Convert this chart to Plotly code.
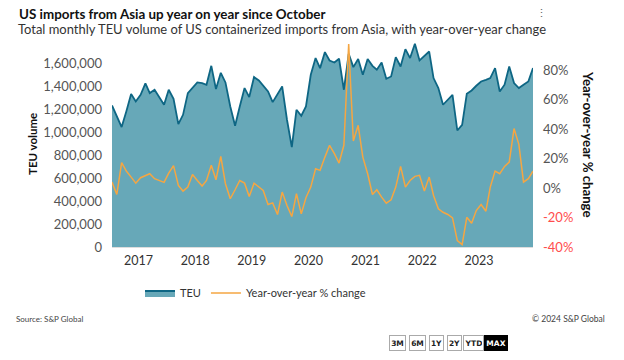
import pandas as pd
import plotly.graph_objects as go

# Monthly observations, Jul 2016 - Dec 2023 (plotted mid-month)
months = pd.date_range("2016-07-01", "2023-12-01", freq="MS") + pd.Timedelta(days=14)

teu = [1236700, 1135000, 1048000, 1184000, 1336000, 1272000, 1330000, 1429000,
       1345000, 1374000, 1315000, 1243000, 1374000, 1295000, 1074000, 1155000,
       1345000, 1389000, 1438000, 1432000, 1418000, 1583000, 1380000, 1522000,
       1438000, 1228000, 1059000, 1228000, 1389000, 1310000, 1485000, 1455000,
       1409000, 1359000, 1266000, 1330000, 1403000, 1112000, 873000, 1199000,
       1147000, 1228000, 1505000, 1651000, 1563000, 1703000, 1630000, 1612000,
       1645000, 1374000, 1688000, 1572000, 1642000, 1505000, 1642000, 1583000,
       1549000, 1612000, 1470000, 1490000, 1659000, 1577000, 1729000, 1651000,
       1776000, 1630000, 1665000, 1708000, 1476000, 1389000, 1243000, 1287000,
       1330000, 1018000, 1068000, 1339000, 1368000, 1409000, 1446000, 1461000,
       1476000, 1563000, 1359000, 1418000, 1577000, 1432000, 1389000, 1418000,
       1446000, 1563000]

yoy = [4.1, -4.3, 17.3, 11.6, 7.5, 3.4, 7.1, 8.4, 9.8, 6.4, 5.2, 3.9, 10.2, 15.3, 1.8, -2.0,
       0.7, 9.3, 5.2, 1.4, 5.2, 15.5, 5.7, 21.6, 3.0, -7.2, -1.1, 5.2, 3.4, -5.7, 3.4, 0.7,
       -1.6, -11.1, -10.0, -17.9, -2.7, -11.8, -19.3, -3.8, -17.5, -6.5, 0.7, 13.2, 12.1, 21.1, 29.1, 23.4,
       17.0, 29.1, 98.0, 32.0, 42.7, 21.1, 9.8, -4.3, -1.1, -6.1, -10.2, -7.9, 0.7, 14.8, 0.7, 5.2,
       8.0, 8.7, -2.0, 7.5, -5.0, -14.0, -16.4, -17.9, -20.2, -35.7, -38.4, -19.8, -23.9, -15.2, -11.1, -15.7,
       0.7, 11.6, 9.8, 14.8, 17.7, 40.5, 29.8, 4.1, 6.4, 11.6]

year_ticks = ["2017-01-01", "2018-01-01", "2019-01-01", "2020-01-01",
              "2021-01-01", "2022-01-01", "2023-01-01"]
year_labels = ["2017", "2018", "2019", "2020", "2021", "2022", "2023"]

left_ticks = [0, 200000, 400000, 600000, 800000, 1000000, 1200000, 1400000, 1600000]
right_ticks = [-40, -20, 0, 20, 40, 60, 80]
right_labels = [('<span style="color:#ff4d4d">%d%%</span>' % v) if v < 0 else "%d%%" % v
                for v in right_ticks]

FONT = "Lato"
TEAL_FILL = "rgb(103,168,184)"
TEAL_LINE = "rgb(14,102,132)"
ORANGE = "rgb(245,166,66)"

fig = go.Figure()
fig.add_trace(go.Scatter(
    x=months, y=teu, name="TEU", mode="lines",
    line=dict(color=TEAL_LINE, width=1.8),
    fill="tozeroy", fillcolor=TEAL_FILL, yaxis="y"))
fig.add_trace(go.Scatter(
    x=months, y=yoy, name="Year-over-year % change", mode="lines",
    line=dict(color=ORANGE, width=1.5), yaxis="y2"))

W, H = 624, 360
L, R, T, B = 112, 91, 41, 113
pw, ph = W - L - R, H - T - B


def px(x):
    return (x - L) / pw


def py(y):
    return (H - B - y) / ph


fig.update_layout(
    width=W, height=H,
    margin=dict(l=L, r=R, t=T, b=B),
    paper_bgcolor="white", plot_bgcolor="white",
    font=dict(family=FONT, color="#333"),
    showlegend=True,
    legend=dict(orientation="h", x=px(140), xanchor="left", y=py(293), yanchor="middle",
                font=dict(size=11, color="#333"), bgcolor="rgba(0,0,0,0)"),
    xaxis=dict(type="date", range=[months[0], months[-1]],
               tickvals=year_ticks, ticktext=year_labels,
               showgrid=False, zeroline=False, showline=True, linecolor="#dddddd",
               ticks="", tickfont=dict(size=12.5, color="#333", family=FONT),
               ticklabelstandoff=2),
    yaxis=dict(range=[0, 1800000], tickvals=left_ticks, tickformat=",",
               showgrid=False, zeroline=False, showline=False,
               tickfont=dict(size=13, color="#555", family=FONT),
               ticklabelstandoff=9),
    yaxis2=dict(range=[-40, 100], overlaying="y", side="right",
                tickvals=right_ticks, ticktext=right_labels,
                showgrid=False, zeroline=True, zerolinecolor="#7a7a7a", zerolinewidth=1,
                tickfont=dict(size=13, color="#555", family=FONT),
                ticklabelstandoff=9),
)

ann = []
ann.append(dict(text="<b>US imports from Asia up year on year since October</b>",
                x=px(17), y=py(14), xanchor="left", yanchor="middle",
                font=dict(size=13.4, color="#111", family=FONT)))
ann.append(dict(text="Total monthly TEU volume of US containerized imports from Asia, with year-over-year change",
                x=px(16), y=py(29.5), xanchor="left", yanchor="middle",
                font=dict(size=12.95, color="#333", family=FONT)))
ann.append(dict(text="⋮", x=px(541), y=py(12.5), xanchor="center", yanchor="middle",
                font=dict(size=11, color="#666", family=FONT)))
ann.append(dict(text="<b>TEU volume</b>", textangle=-90, x=px(32), y=0.5,
                xanchor="center", yanchor="middle",
                font=dict(size=11.5, color="#111", family=FONT)))
ann.append(dict(text="<b>Year-over-year % change</b>", textangle=90, x=px(588), y=0.5,
                xanchor="center", yanchor="middle",
                font=dict(size=13.2, color="#111", family=FONT)))
ann.append(dict(text="Source: S&P Global", x=px(14), y=py(319), xanchor="left", yanchor="middle",
                font=dict(size=8, color="#444", family=FONT)))
ann.append(dict(text="© 2024 S&P Global", x=px(607), y=py(319), xanchor="right", yanchor="middle",
                font=dict(size=8.5, color="#444", family=FONT)))

buttons = [("3M", 397.5, 13), ("6M", 417, 13), ("1Y", 436, 11), ("2Y", 454, 11),
           ("YTD", 473, 17), ("MAX", 495.5, 20)]
for label, cx, w in buttons:
    active = label == "MAX"
    ann.append(dict(text="<b>%s</b>" % label, x=px(cx), y=py(342.5),
                    xanchor="center", yanchor="middle", width=w, height=12,
                    bgcolor="black" if active else "white",
                    bordercolor="black" if active else "#aaaaaa", borderwidth=1, borderpad=1,
                    font=dict(size=7.5, color="white" if active else "#222", family="DejaVu Sans")))

for a in ann:
    a.update(xref="paper", yref="paper", showarrow=False)
fig.update_layout(annotations=ann)

fig.write_html("out.html", config={"displayModeBar": False},
               post_script="document.body.style.margin='0';document.body.style.padding='0';")
